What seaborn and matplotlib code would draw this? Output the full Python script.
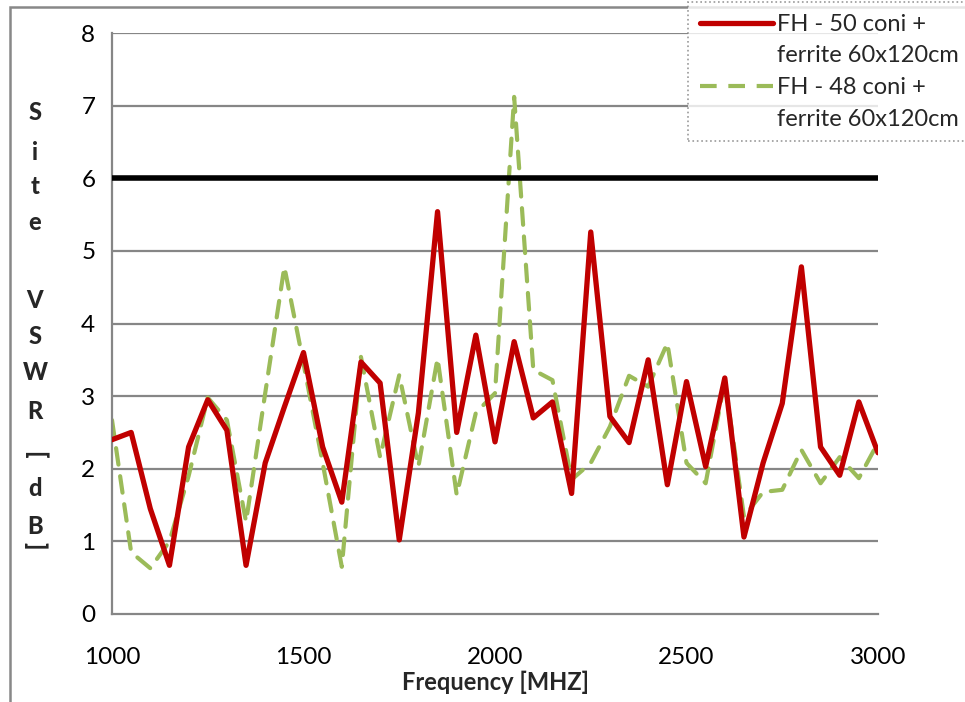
import matplotlib
matplotlib.use("Agg")
import matplotlib.pyplot as plt
import seaborn as sns
import pandas as pd
from matplotlib.patches import Rectangle
from matplotlib.lines import Line2D

freq = [1000, 1050, 1100, 1150, 1200, 1250, 1300, 1350, 1400, 1450, 1500,
        1550, 1600, 1650, 1700, 1750, 1800, 1850, 1900, 1950, 2000,
        2050, 2100, 2150, 2200, 2250, 2300, 2350, 2400, 2450, 2500,
        2550, 2600, 2650, 2700, 2750, 2800, 2850, 2900, 2950, 3000]
fh50 = [2.40, 2.50, 1.45, 0.67, 2.30, 2.95, 2.53, 0.67, 2.08, 2.85, 3.60,
        2.30, 1.54, 3.47, 3.18, 1.02, 2.77, 5.54, 2.50, 3.84, 2.37,
        3.75, 2.70, 2.92, 1.66, 5.26, 2.72, 2.36, 3.50, 1.78, 3.20,
        2.03, 3.25, 1.06, 2.08, 2.90, 4.78, 2.30, 1.91, 2.92, 2.22]
fh48 = [2.67, 0.85, 0.63, 1.00, 1.90, 2.98, 2.67, 1.27, 3.04, 4.78, 3.45,
        2.08, 0.65, 3.54, 2.16, 3.29, 2.03, 3.52, 1.64, 2.77, 3.04,
        7.12, 3.36, 3.22, 1.85, 2.08, 2.58, 3.28, 3.13, 3.73, 2.08,
        1.80, 3.22, 1.34, 1.68, 1.71, 2.26, 1.80, 2.16, 1.87, 2.36]
limit_x = [1000, 3000]
limit_y = [6, 6]
series_names = ["FH - 50 coni +\nferrite 60x120cm", "FH - 48 coni +\nferrite 60x120cm"]
x_ticks = [1000, 1500, 2000, 2500, 3000]
y_ticks = [0, 1, 2, 3, 4, 5, 6, 7, 8]
xlabel = "Frequency [MHZ]"
ylabel_chars = ["S", "i", "t", "e", "V", "S", "W", "R", "[", "d", "B", "]"]

RED = "#C00000"
GREEN = "#9BBB59"
DASH = (0, (4, 2.8))

sns.set_theme(style="white")
plt.rcParams['font.family'] = ['Lato', 'DejaVu Sans']

fig = plt.figure(figsize=(9.65, 7.02), dpi=100)
W, H = 965, 702
ax = fig.add_axes([112 / W, 1 - 614 / H, (878 - 112) / W, (614 - 33) / H])

grid_c = "#868686"
for yv in y_ticks[1:]:
    ax.axhline(yv, color=grid_c, lw=1.6, zorder=0)

df = pd.DataFrame({"freq": freq + freq,
                   "vswr": fh50 + fh48,
                   "series": [series_names[0]] * len(freq) + [series_names[1]] * len(freq)})

sns.lineplot(data=df[df.series == series_names[0]], x="freq", y="vswr",
             color=RED, lw=3.8, ax=ax, legend=False, zorder=3,
             solid_joinstyle="round", solid_capstyle="round")
sns.lineplot(data=df[df.series == series_names[1]], x="freq", y="vswr",
             color=GREEN, lw=3.0, ax=ax, legend=False, zorder=2,
             dashes=False, linestyle=DASH,
             dash_joinstyle="round", dash_capstyle="round")
sns.lineplot(x=limit_x, y=limit_y, color="black", lw=4, ax=ax, zorder=4, legend=False)

ax.set_xlim(1000, 3000)
ax.set_ylim(0, 8)
ax.set_xticks(x_ticks)
ax.set_yticks(y_ticks)
ax.tick_params(axis="both", labelsize=17.5, colors="black", length=6, width=1.5,
               direction="out", color=grid_c)
ax.tick_params(axis="y", pad=6)
ax.tick_params(axis="x", pad=18)
for s in ["top", "right"]:
    ax.spines[s].set_visible(False)
for s in ["left", "bottom"]:
    ax.spines[s].set_color(grid_c)
    ax.spines[s].set_linewidth(1.6)
ax.set_xlabel(xlabel, fontsize=17, fontweight="bold", labelpad=2)
ax.set_ylabel("")

# stacked y label
ypos = [112, 152, 187, 223, 300, 336, 373, 412, 455, 488, 527, 546]
for ch, yp in zip(ylabel_chars, ypos):
    rot = -90 if ch in "[]" else 0
    fig.text(35 / W, 1 - yp / H, ch, ha="center", va="center", fontsize=17,
             fontweight="black", rotation=rot)

# legend: first line of each entry carries the handle
labels = []
handles = []
for name, h in zip(series_names, [Line2D([0], [0], color=RED, lw=3.8),
                                  Line2D([0], [0], color=GREEN, lw=3.0, linestyle=DASH)]):
    first, second = name.split("\n")
    labels += [first, second]
    handles += [h, Line2D([0], [0], color="none", lw=0)]
leg = fig.legend(handles, labels, loc="upper left",
                 bbox_to_anchor=(688 / W, 1 - 2 / H), fontsize=17,
                 frameon=True, fancybox=False, handlelength=3.1,
                 handletextpad=0.15, borderpad=0.5, labelspacing=0.45,
                 borderaxespad=0)
fr = leg.get_frame()
fr.set_edgecolor("#808080")
fr.set_linestyle(":")
fr.set_linewidth(1.2)

# outer chart border
fig.patches.append(Rectangle((10 / W, -0.05), 1.2, 1 - 7 / H + 0.05,
                             transform=fig.transFigure, fill=False,
                             edgecolor="#888888", lw=1.8, zorder=0))

fig.savefig("out.png", dpi=100)
